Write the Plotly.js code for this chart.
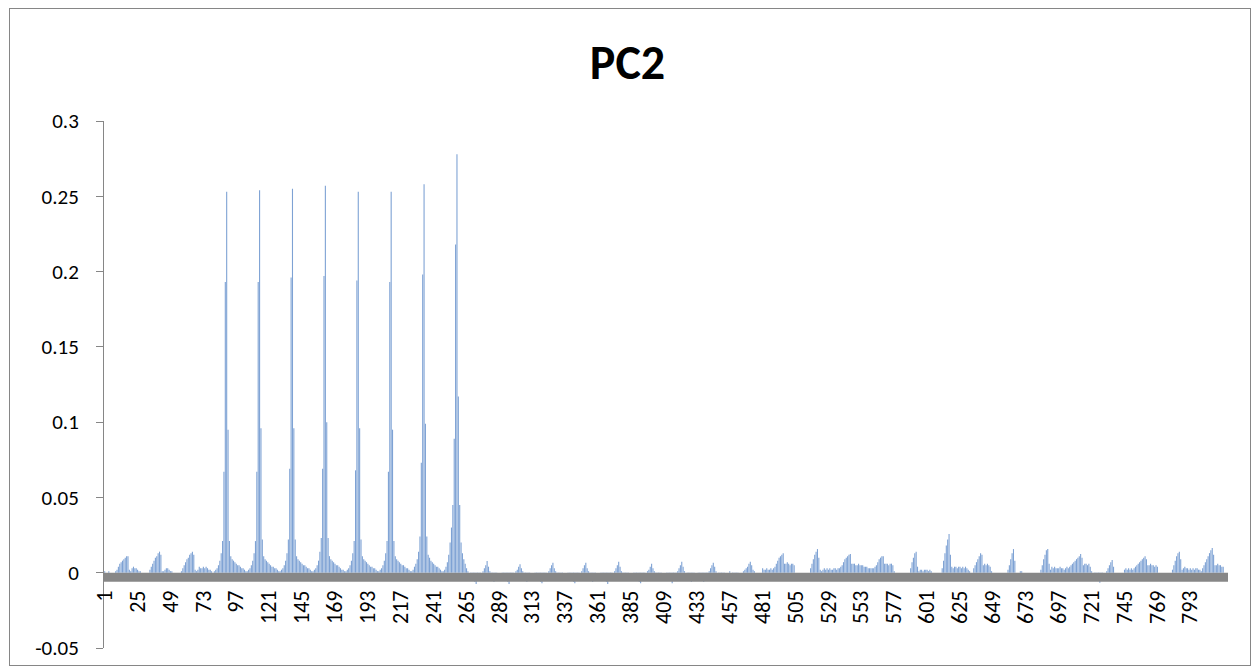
<!DOCTYPE html>
<html>
<head>
<meta charset="utf-8">
<script src="https://cdn.plot.ly/plotly-3.0.1.min.js"></script>
<style>
  html, body { margin: 0; padding: 0; background: #ffffff; }
  #wrap { position: relative; width: 1255px; height: 672px; }
  #chart { position: absolute; left: 0; top: 0; width: 1255px; height: 672px; }
  #frame { position: absolute; left: 9px; top: 8px; width: 1240px; height: 656px;
           border: 1px solid #868686; pointer-events: none; }
</style>
</head>
<body>
<div id="wrap"><div id="chart"></div><div id="frame"></div></div>
<script>
// ---- data (PC2 loadings, 24 values per row) ----
const earlyGroups = [
  0.001,0.000,0.000,0.001,0.000,0.000,0.000,0.000,0.001,0.002,0.004,0.006,0.007,0.008,0.009,0.010,0.011,0.011,0.002,0.001,0.003,0.004,0.003,0.003,
  0.002,0.001,0.001,0.000,0.000,0.000,0.000,0.000,0.000,0.002,0.004,0.006,0.008,0.010,0.011,0.013,0.014,0.012,0.001,0.001,0.002,0.003,0.003,0.002,
  0.001,0.001,0.000,0.000,0.000,0.000,0.000,0.000,0.001,0.003,0.005,0.007,0.009,0.010,0.012,0.013,0.014,0.012,0.002,0.001,0.002,0.004,0.003,0.003
];
const spikeGroups = [
  0.004,0.003,0.004,0.003,0.002,0.002,0.001,0.000,0.001,0.002,0.003,0.005,0.008,0.013,0.021,0.067,0.193,0.253,0.095,0.021,0.011,0.009,0.008,0.007,
  0.006,0.005,0.005,0.004,0.003,0.003,0.002,0.001,0.001,0.002,0.003,0.005,0.008,0.013,0.021,0.067,0.193,0.254,0.096,0.022,0.011,0.009,0.008,0.007,
  0.006,0.005,0.004,0.004,0.003,0.003,0.002,0.001,0.001,0.002,0.003,0.005,0.008,0.013,0.022,0.069,0.196,0.255,0.096,0.022,0.011,0.009,0.008,0.007,
  0.006,0.005,0.005,0.004,0.003,0.003,0.002,0.001,0.001,0.002,0.003,0.005,0.008,0.014,0.023,0.069,0.197,0.257,0.100,0.023,0.011,0.009,0.008,0.007,
  0.006,0.005,0.005,0.004,0.003,0.002,0.002,0.001,0.001,0.002,0.003,0.005,0.008,0.013,0.021,0.068,0.194,0.253,0.096,0.022,0.011,0.009,0.008,0.007,
  0.006,0.005,0.004,0.004,0.003,0.003,0.002,0.001,0.001,0.002,0.003,0.005,0.008,0.013,0.021,0.067,0.193,0.253,0.095,0.021,0.011,0.009,0.008,0.007,
  0.006,0.005,0.005,0.004,0.003,0.003,0.002,0.001,0.001,0.002,0.004,0.006,0.009,0.014,0.024,0.073,0.198,0.258,0.099,0.024,0.012,0.010,0.008,0.007,
  0.006,0.005,0.004,0.004,0.003,0.002,0.001,0.001,0.002,0.004,0.007,0.012,0.020,0.030,0.045,0.089,0.218,0.278,0.117,0.045,0.020,0.013,0.009,0.006
];
const midGroups = [
  0.003,0.001,0.000,-0.001,-0.002,-0.004,-0.006,-0.0075,-0.005,-0.002,-0.001,0.000,0.001,0.003,0.005,0.0078,0.004,0.001,-0.002,-0.004,-0.006,-0.003,-0.001,0.000,
  0.000,0.000,-0.001,-0.002,-0.003,-0.005,-0.006,-0.0075,-0.004,-0.002,-0.001,0.000,0.001,0.002,0.004,0.0056,0.003,0.001,-0.002,-0.004,-0.006,-0.003,-0.001,0.000,
  0.000,0.000,-0.001,-0.002,-0.003,-0.004,-0.006,-0.007,-0.004,-0.002,-0.001,0.000,0.001,0.003,0.005,0.0066,0.003,0.001,-0.001,-0.003,-0.005,-0.003,-0.001,0.000,
  0.000,0.000,-0.001,-0.002,-0.003,-0.004,-0.006,-0.007,-0.004,-0.002,-0.001,0.000,0.001,0.003,0.005,0.0066,0.003,0.001,-0.001,-0.003,-0.006,-0.004,-0.001,0.000,
  0.000,0.000,-0.001,-0.002,-0.003,-0.004,-0.006,-0.0075,-0.004,-0.002,-0.001,0.000,0.001,0.003,0.005,0.0073,0.004,0.001,-0.001,-0.003,-0.005,-0.003,-0.001,0.000,
  0.000,0.000,-0.001,-0.002,-0.003,-0.004,-0.006,-0.007,-0.004,-0.002,-0.001,0.000,0.001,0.002,0.004,0.006,0.003,0.001,-0.001,-0.003,-0.005,-0.003,-0.001,0.000,
  0.000,0.000,-0.001,-0.002,-0.003,-0.005,-0.007,-0.004,-0.002,-0.001,0.001,0.003,0.005,0.0073,0.004,0.001,0.000,-0.001,-0.003,-0.005,-0.006,-0.003,-0.001,0.000,
  0.000,-0.001,-0.002,-0.003,-0.004,-0.006,-0.004,-0.002,-0.001,0.001,0.003,0.005,0.0066,0.004,0.001,0.000,-0.001,-0.002,-0.003,-0.002,-0.001,0.000,0.000,0.000
];
const lateGroups = [
  0.001,0.000,-0.001,-0.002,-0.003,-0.002,-0.001,0.000,0.000,0.000,0.001,0.002,0.003,0.004,0.006,0.0073,0.005,0.002,0.001,0.000,0.000,0.000,0.000,0.000,
  0.003,0.002,0.002,0.003,0.002,0.002,0.003,0.002,0.003,0.004,0.006,0.008,0.010,0.011,0.012,0.013,0.006,0.006,0.007,0.006,0.005,0.006,0.006,0.005,
  0.000,0.000,0.000,0.000,0.000,0.000,0.000,0.000,0.000,0.000,0.000,0.003,0.006,0.009,0.012,0.014,0.0157,0.010,0.002,0.001,0.002,0.003,0.002,0.003,
  0.002,0.003,0.002,0.002,0.003,0.003,0.002,0.003,0.003,0.004,0.005,0.007,0.009,0.010,0.011,0.012,0.0124,0.006,0.006,0.006,0.005,0.005,0.006,0.005,
  0.005,0.005,0.004,0.004,0.004,0.003,0.003,0.003,0.003,0.003,0.004,0.005,0.007,0.009,0.010,0.011,0.011,0.006,0.006,0.006,0.005,0.006,0.006,0.005,
  0.001,0.000,0.000,0.000,0.000,0.000,0.000,0.000,0.000,0.000,0.000,0.000,0.003,0.007,0.010,0.013,0.014,0.004,0.001,0.002,0.002,0.001,0.002,0.002,
  0.002,0.001,0.002,0.001,0.000,0.000,0.000,0.000,0.000,0.000,0.000,0.003,0.008,0.013,0.018,0.022,0.0257,0.012,0.004,0.003,0.004,0.004,0.003,0.004,
  0.004,0.003,0.004,0.003,0.004,0.003,0.002,0.001,0.000,0.000,0.003,0.005,0.007,0.009,0.011,0.013,0.012,0.005,0.006,0.005,0.006,0.005,0.004,0.001,
  0.000,0.000,0.000,0.000,0.000,0.000,0.000,0.000,0.000,0.000,0.000,0.002,0.005,0.009,0.013,0.0157,0.008,0.000,0.000,0.000,0.001,0.001,0.000,0.000,
  0.000,0.000,0.000,0.000,0.000,0.000,0.000,0.000,0.000,0.000,0.000,0.002,0.005,0.009,0.012,0.015,0.0157,0.006,0.002,0.004,0.003,0.004,0.003,0.003,
  0.003,0.004,0.003,0.003,0.002,0.003,0.004,0.003,0.004,0.005,0.006,0.007,0.008,0.009,0.010,0.011,0.0124,0.010,0.005,0.006,0.006,0.005,0.006,0.004,
  0.001,0.000,-0.001,-0.002,-0.004,-0.005,-0.0066,-0.003,-0.001,0.000,0.000,0.001,0.003,0.005,0.007,0.0084,0.004,0.000,0.000,0.000,0.000,0.000,0.000,0.000,
  0.002,0.003,0.002,0.003,0.002,0.003,0.002,0.003,0.004,0.005,0.006,0.007,0.008,0.009,0.010,0.011,0.009,0.005,0.005,0.006,0.005,0.005,0.004,0.005,
  0.004,0.000,0.000,0.000,0.000,0.000,0.000,0.000,0.000,0.000,0.000,0.002,0.005,0.008,0.011,0.013,0.014,0.009,0.002,0.003,0.004,0.003,0.003,0.002,
  0.003,0.002,0.003,0.002,0.003,0.003,0.002,0.002,0.001,0.003,0.005,0.007,0.009,0.011,0.013,0.015,0.0164,0.012,0.005,0.005,0.006,0.005,0.005,0.004,
  0.004,0.000,0.000,0.000
];
const pc2Values = earlyGroups.concat(spikeGroups, midGroups, lateGroups);
const categories = pc2Values.map((v, i) => i + 1);
const xTickVals = [1,25,49,73,97,121,145,169,193,217,241,265,289,313,337,361,385,409,433,457,481,505,529,553,577,601,625,649,673,697,721,745,769,793];
const xTickText = xTickVals.map(String);
const yTickVals = [-0.05,0,0.05,0.1,0.15,0.2,0.25,0.3];
const yTickText = ['-0.05','0','0.05','0.1','0.15','0.2','0.25','0.3'];

const N = pc2Values.length;
const fontFam = 'Carlito, Calibri, "Liberation Sans", Arial, sans-serif';

Plotly.newPlot('chart', [{
  type: 'bar',
  x: categories,
  y: pc2Values,
  marker: { color: '#7ea2d4', line: { width: 0 } },
  hoverinfo: 'x+y'
}], {
  width: 1255, height: 672,
  margin: { l: 104, r: 27, t: 121, b: 24, pad: 0 },
  paper_bgcolor: '#ffffff', plot_bgcolor: '#ffffff',
  showlegend: false,
  bargap: 0.2,
  title: { text: '<b>PC2</b>', font: { family: fontFam, size: 48, color: '#000000' },
           x: 0.5, xref: 'container', y: 1 - 62/672, yref: 'container', yanchor: 'middle' },
  xaxis: {
    type: 'linear', range: [0.5, N + 0.5],
    anchor: 'free', position: 0.05 / 0.35,
    tickmode: 'array', tickvals: xTickVals, ticktext: xTickText,
    tickangle: -90, ticks: 'outside', ticklen: 8, tickcolor: 'rgba(0,0,0,0)',
    tickfont: { family: fontFam, size: 22, color: '#000000' },
    showline: false, showgrid: false, zeroline: false
  },
  yaxis: {
    range: [-0.05, 0.3],
    tickmode: 'array', tickvals: yTickVals, ticktext: yTickText,
    ticks: 'outside', ticklen: 7, tickcolor: '#868686', tickwidth: 1,
    ticklabelstandoff: 13,
    tickfont: { family: fontFam, size: 21, color: '#000000' },
    showline: true, linecolor: '#868686', linewidth: 1,
    showgrid: false, zeroline: false
  },
  shapes: [{
    type: 'rect', xref: 'paper', x0: 0, x1: 1, yref: 'y', y0: 0, y1: -0.006,
    fillcolor: '#878787', line: { width: 0 }, layer: 'above'
  }]
}, { displayModeBar: false, staticPlot: true });
</script>
</body>
</html>
